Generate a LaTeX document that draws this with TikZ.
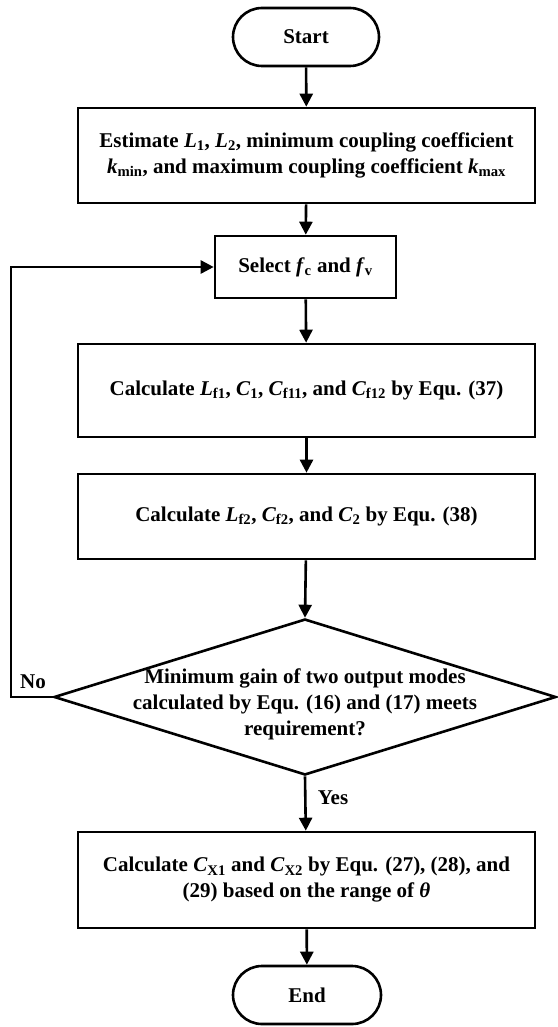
\documentclass[tikz,border=0pt]{standalone}
\usepackage{fontspec}
\setmainfont{Liberation Serif}
\usetikzlibrary{arrows.meta,shapes.geometric}
\newcommand{\sub}[1]{\textsubscript{#1}}
\begin{document}
\begin{tikzpicture}[x=1pt,y=-1pt,
  line width=2.6pt,
  every node/.style={font=\fontsize{21}{26}\selectfont\bfseries},
  box/.style={draw, rectangle, minimum width=457pt, inner sep=0pt, align=center},
  term/.style={draw, rectangle, rounded corners=29pt, minimum height=58pt, inner sep=0pt},
  arr/.style={-{Triangle[length=13pt,width=13pt]}},
  plain/.style={inner sep=0pt, align=center}]
\useasboundingbox (0,0) rectangle (557,1027);

\node[term, minimum width=146pt] (start) at (306,37) {Start};
\node[box, minimum height=95pt] (est) at (306.5,155.5)
  {Estimate \textit{L}\sub{1}, \textit{L}\sub{2}, minimum coupling coefficient\\
   \textit{k}\sub{min}, and maximum coupling coefficient \textit{k}\sub{max}};
\node[draw, rectangle, minimum width=181pt, minimum height=62pt, inner sep=0pt] (sel) at (305.5,267)
  {Select \textit{f}\sub{c} and \textit{f}\sub{v}};
\node[box, minimum height=93pt] (calc1) at (306.5,390.5)
  {Calculate \textit{L}\sub{f1}, \textit{C}\sub{1}, \textit{C}\sub{f11}, and \textit{C}\sub{f12} by Equ. (37)};
\node[box, minimum height=85pt] (calc2) at (306.5,516.5)
  {Calculate \textit{L}\sub{f2}, \textit{C}\sub{f2}, and \textit{C}\sub{2} by Equ. (38)};
\node[draw, diamond, minimum width=502pt, minimum height=156pt, inner sep=0pt] (dec) at (305,697) {};
\node[plain] (dectext) at (305,704)
  {Minimum gain of two output modes\\calculated by Equ. (16) and (17) meets\\requirement?};
\node[box, minimum height=96pt] (calc3) at (306.5,880)
  {Calculate \textit{C}\sub{X1} and \textit{C}\sub{X2} by Equ. (27), (28), and\\
   (29) based on the range of \textit{θ}};
\node[term, minimum width=148pt] (end) at (307,995) {End};

\coordinate (lb) at (11,697);
\coordinate (lt) at (11,267);

\draw[arr] (start) -- (est);
\draw[arr] (est) -- (sel);
\draw[arr] (sel) -- (calc1);
\draw[arr] (calc1) -- (calc2);
\draw[arr] (calc2) -- (dec.north);
\draw[arr] (dec.south) -- (calc3);
\draw[arr] (calc3) -- (end);
\draw[arr] (dec.west) -- (lb) -- (lt) -- (sel.west);

\node[plain] (no) at (33,682) {No};
\node[plain] (yes) at (333,798) {Yes};
\end{tikzpicture}
\end{document}
